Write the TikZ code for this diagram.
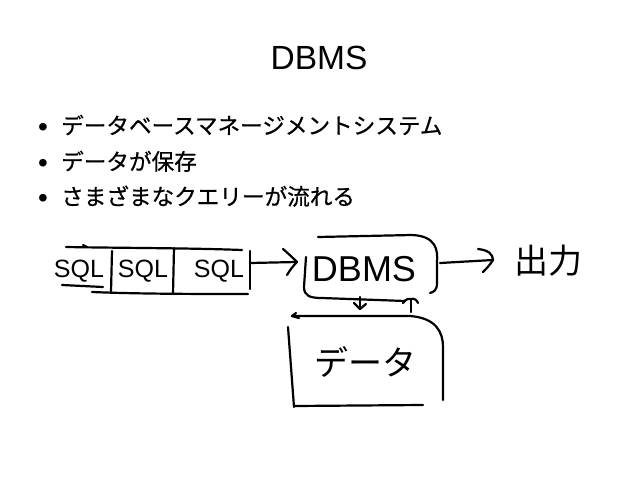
\documentclass[tikz,border=0pt]{standalone}
\usepackage{fontspec}
\setmainfont{Liberation Sans}
\newfontfamily\jp{Noto Sans CJK JP}
\newfontfamily\jpb[FakeBold=0.6]{Noto Sans CJK JP}
\begin{document}
\begin{tikzpicture}[x=1pt,y=-1pt,
  ink/.style={line width=2.2pt,line cap=round,line join=round,black},
  title/.style={font=\fontsize{33.5}{40}\selectfont,anchor=base,inner sep=0pt},
  bul/.style={font=\fontsize{28}{30}\selectfont,anchor=base,inner sep=0pt},
  btext/.style={font=\jpb\fontsize{22.6}{27}\selectfont,anchor=base west,inner sep=0pt},
  hand/.style={font=\fontsize{25}{30}\selectfont,inner sep=0pt},
  handbig/.style={font=\fontsize{36}{40}\selectfont,inner sep=0pt},
  handjp/.style={font=\jp\fontsize{34}{40}\selectfont,inner sep=0pt}]
\useasboundingbox (0,0) rectangle (638,479);
\fill[white] (0,0) rectangle (638,479);

% title
\node[title] (t) at (319,69) {DBMS};

% bullets
\node[bul] (b1) at (43,136) {•};
\node[btext] (l1) at (61,134) {データベースマネージメントシステム};
\node[bul] (b2) at (43,172) {•};
\node[btext] (l2) at (61,170) {データが保存};
\node[bul] (b3) at (43,207) {•};
\node[btext] (l3) at (61,205) {さまざまなクエリーが流れる};

% SQL queue
\node[hand] (q1) at (79,271) {SQL};
\node[hand] (q2) at (143,271) {SQL};
\node[hand] (q3) at (219,271) {SQL};
\draw[ink] (66,247) .. controls (120,248) and (190,248) .. (242,250);
\draw[ink] (83,245) -- (87,247);
\draw[ink] (92,292) .. controls (140,294) and (200,294) .. (248,294);
\draw[ink] (62,285) -- (103,287);
\draw[ink] (112,251) -- (111,292);
\draw[ink] (174,248) -- (173,294);
\draw[ink] (250,251) -- (250,289);

% DBMS
\node[handbig] (d) at (364,269) {DBMS};
\draw[ink] (318,237) -- (412,235) .. controls (436,236) and (438,250) .. (437,262)
  -- (437,283) .. controls (437,290) and (434,292) .. (430,293);
\draw[ink] (306,257) -- (304,287) .. controls (304,296) and (310,298) .. (322,298) -- (405,301);

% data
\node[handjp] (db) at (365,362) {データ};
\draw[ink] (292,316) -- (410,316) .. controls (436,318) and (443,332) .. (443,347) -- (443,400);
\draw[ink] (296,313) -- (292,316) -- (299,318);
\draw[ink] (288,327) -- (294,407);
\draw[ink] (295,406) -- (423,405);

% output
\node[handjp] (o) at (548,261) {出力};

% arrows
\coordinate (a1s) at (250,263);
\coordinate (a1e) at (297,262);
\draw[ink] (a1s) -- (a1e);
\draw[ink] (283,249) .. controls (290,255) and (294,259) .. (a1e) .. controls (293,266) and (290,270) .. (287,275);

\coordinate (a2s) at (440,263);
\coordinate (a2e) at (493,260);
\draw[ink] (a2s) -- (a2e);
\draw[ink] (478,249) .. controls (488,250) and (493,254) .. (a2e) .. controls (490,265) and (486,269) .. (483,272);

\coordinate (a3s) at (360,297);
\coordinate (a3e) at (360,309);
\draw[ink] (a3s) -- (a3e);
\draw[ink] (354,303) -- (a3e) -- (366,304);

\coordinate (a4s) at (411,312);
\coordinate (a4e) at (411,299);
\draw[ink] (a4s) -- (a4e);
\draw[ink] (403,303) .. controls (406,299) and (409,298) .. (a4e) .. controls (414,298) and (417,300) .. (418,303);
\end{tikzpicture}
\end{document}
